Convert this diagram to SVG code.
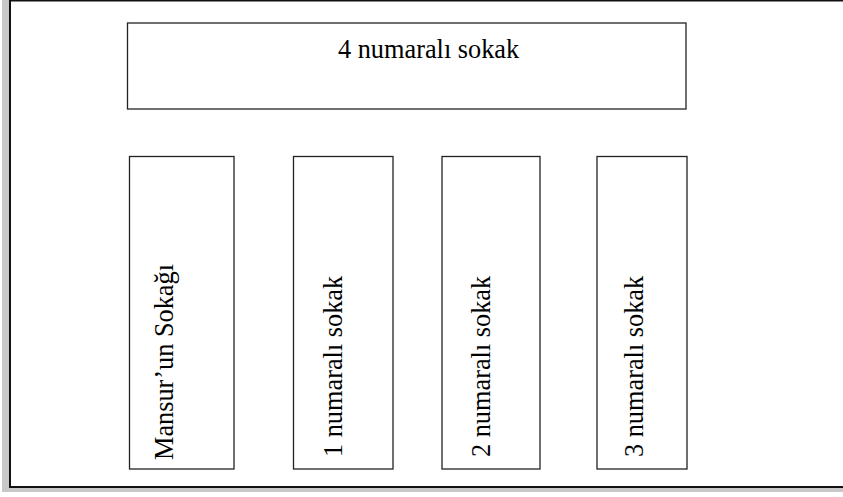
<svg xmlns="http://www.w3.org/2000/svg" width="843" height="497" viewBox="0 0 843 497">
<style>
.box{fill:#fff;stroke:#222;stroke-width:1.3}
.t{fill:#000;font-family:"Liberation Serif","Times New Roman",serif;font-size:26.3px}
</style>
<rect x="0" y="0" width="843" height="497" fill="#fff"/>
<rect x="2" y="-5" width="900" height="497" fill="#c8c8c8"/>
<rect x="10" y="0.5" width="900" height="486.5" fill="#fff" stroke="#111" stroke-width="2"/>
<g id="sokak4">
<rect class="box" x="127.5" y="23" width="558.5" height="86"/>
<text class="t" x="338" y="58">4 numaralı sokak</text>
</g>
<g id="mansur">
<rect class="box" x="129.5" y="156.5" width="104.5" height="312.5"/>
<text class="t" transform="translate(173,460) rotate(-90)">Mansur’un Sokağı</text>
</g>
<g id="sokak1">
<rect class="box" x="293.5" y="156.5" width="99.5" height="312.5"/>
<text class="t" transform="translate(342,457) rotate(-90)">1 numaralı sokak</text>
</g>
<g id="sokak2">
<rect class="box" x="442" y="156.5" width="98" height="312.5"/>
<text class="t" transform="translate(490,457) rotate(-90)">2 numaralı sokak</text>
</g>
<g id="sokak3">
<rect class="box" x="597" y="156.5" width="90" height="312.5"/>
<text class="t" transform="translate(643,457) rotate(-90)">3 numaralı sokak</text>
</g>
<g id="connectors"></g>
</svg>
